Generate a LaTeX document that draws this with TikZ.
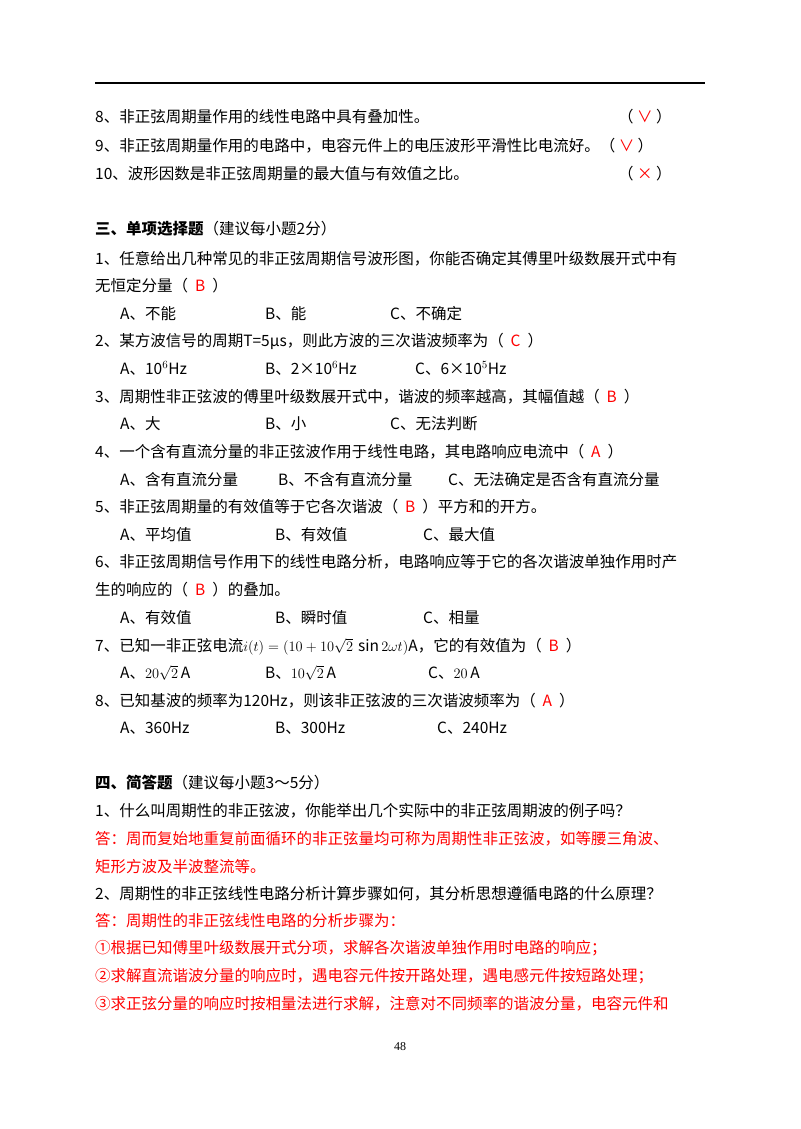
\documentclass[tikz,border=0pt]{standalone}
\usepackage{fontspec}
\setmainfont{Noto Sans CJK SC}
\newfontfamily\ser{Liberation Serif}
\newcommand{\R}[1]{\textcolor{red}{#1}}
\begin{document}
\begin{tikzpicture}[x=1pt,y=1pt,
  t/.style={anchor=base west,inner sep=0,font=\fontsize{15.5}{18}\selectfont}]
\useasboundingbox[fill=white] (0,0) rectangle (800,-1129);
\draw[line width=1.2] (95,-83) -- (705,-83);
\node[t] (l1) at (95,-123) {8、非正弦周期量作用的线性电路中具有叠加性。};
\node[t] (a1) at (618,-123) {（\ \R{∨}\ ）};
\node[t] (l2) at (95,-151) {9、非正弦周期量作用的电路中，电容元件上的电压波形平滑性比电流好。（\ \R{∨}\ ）};
\node[t] (l3) at (95,-179) {10、波形因数是非正弦周期量的最大值与有效值之比。};
\node[t] (a3) at (618,-179) {（\ \R{×}\ ）};
\node[t] (h3) at (95,-234) {\textbf{三、单项选择题}（建议每小题2分）};
\node[t] (q1) at (95,-264) {1、任意给出几种常见的非正弦周期信号波形图，你能否确定其傅里叶级数展开式中有};
\node[t] (q1b) at (95,-291) {无恒定分量（\ \ \R{B}\ \ ）};
\node[t] at (120,-319) {A、不能};
\node[t] at (265,-319) {B、能};
\node[t] at (390,-319) {C、不确定};
\node[t] (q2) at (95,-346) {2、某方波信号的周期T=5μs，则此方波的三次谐波频率为（\ \ \R{C}\ \ ）};
\node[t] at (120,-374) {A、10$^6$Hz};
\node[t] at (265,-374) {B、2×10$^6$Hz};
\node[t] at (415,-374) {C、6×10$^5$Hz};
\node[t] (q3) at (95,-402) {3、周期性非正弦波的傅里叶级数展开式中，谐波的频率越高，其幅值越（\ \ \R{B}\ \ ）};
\node[t] at (120,-429) {A、大};
\node[t] at (265,-429) {B、小};
\node[t] at (390,-429) {C、无法判断};
\node[t] (q4) at (95,-457) {4、一个含有直流分量的非正弦波作用于线性电路，其电路响应电流中（\ \ \R{A}\ \ ）};
\node[t] at (120,-485) {A、含有直流分量};
\node[t] at (278,-485) {B、不含有直流分量};
\node[t] at (448,-485) {C、无法确定是否含有直流分量};
\node[t] (q5) at (95,-512) {5、非正弦周期量的有效值等于它各次谐波（\ \ \R{B}\ \ ）平方和的开方。};
\node[t] at (120,-540) {A、平均值};
\node[t] at (275,-540) {B、有效值};
\node[t] at (423,-540) {C、最大值};
\node[t] (q6) at (95,-567) {6、非正弦周期信号作用下的线性电路分析，电路响应等于它的各次谐波单独作用时产};
\node[t] (q6b) at (95,-595) {生的响应的（\ \ \R{B}\ \ ）的叠加。};
\node[t] at (120,-623) {A、有效值};
\node[t] at (275,-623) {B、瞬时值};
\node[t] at (423,-623) {C、相量};
\node[t] (q7) at (95,-651) {7、已知一非正弦电流$i(t)=(10+10\sqrt{2}\,\sin 2\omega t)$A，它的有效值为（\ \ \R{B}\ \ ）};
\node[t] at (120,-678) {A、$20\sqrt{2}$\,A};
\node[t] at (265,-678) {B、$10\sqrt{2}$\,A};
\node[t] at (428,-678) {C、$20$\,A};
\node[t] (q8) at (95,-706) {8、已知基波的频率为120Hz，则该非正弦波的三次谐波频率为（\ \ \R{A}\ \ ）};
\node[t] at (120,-733) {A、360Hz};
\node[t] at (275,-733) {B、300Hz};
\node[t] at (437,-733) {C、240Hz};
\node[t] (h4) at (95,-788) {\textbf{四、简答题}（建议每小题3～5分）};
\node[t] (s1) at (95,-816) {1、什么叫周期性的非正弦波，你能举出几个实际中的非正弦周期波的例子吗？};
\node[t,red] (s1a) at (95,-844) {答：周而复始地重复前面循环的非正弦量均可称为周期性非正弦波，如等腰三角波、};
\node[t,red] (s1b) at (95,-872) {矩形方波及半波整流等。};
\node[t] (s2) at (95,-899) {2、周期性的非正弦线性电路分析计算步骤如何，其分析思想遵循电路的什么原理？};
\node[t,red] (s2a) at (95,-926) {答：周期性的非正弦线性电路的分析步骤为：};
\node[t,red] (s2b) at (95,-953) {①根据已知傅里叶级数展开式分项，求解各次谐波单独作用时电路的响应；};
\node[t,red] (s2c) at (95,-981) {②求解直流谐波分量的响应时，遇电容元件按开路处理，遇电感元件按短路处理；};
\node[t,red] (s2d) at (95,-1009) {③求正弦分量的响应时按相量法进行求解，注意对不同频率的谐波分量，电容元件和};
\node[anchor=base,inner sep=0,font=\ser\fontsize{12}{14}\selectfont] (pg) at (400,-1050) {48};
\end{tikzpicture}
\end{document}
